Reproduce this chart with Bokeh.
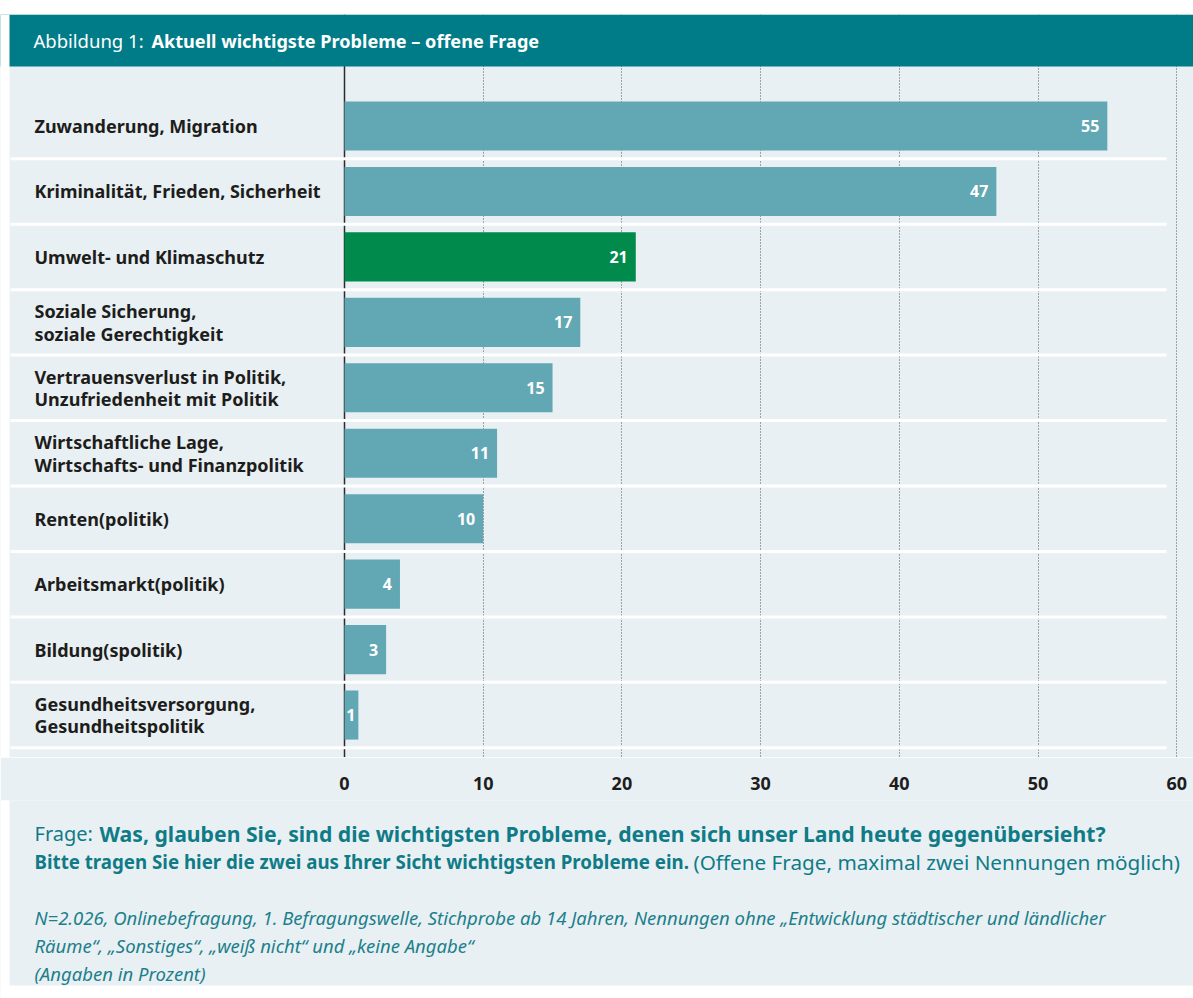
from bokeh.plotting import figure
from bokeh.layouts import column
from bokeh.models import Range1d, FixedTicker, Label, ColumnDataSource, Grid
from bokeh.core.properties import value
from bokeh.embed import file_html
from bokeh.resources import INLINE

# ---------------- data ----------------
categories = [
    "Zuwanderung, Migration",
    "Kriminalität, Frieden, Sicherheit",
    "Umwelt- und Klimaschutz",
    "Soziale Sicherung,\nsoziale Gerechtigkeit",
    "Vertrauensverlust in Politik,\nUnzufriedenheit mit Politik",
    "Wirtschaftliche Lage,\nWirtschafts- und Finanzpolitik",
    "Renten(politik)",
    "Arbeitsmarkt(politik)",
    "Bildung(spolitik)",
    "Gesundheitsversorgung,\nGesundheitspolitik",
]
values = [55, 47, 21, 17, 15, 11, 10, 4, 3, 1]
highlight = [False, False, True, False, False, False, False, False, False, False]
x_ticks = [0, 10, 20, 30, 40, 50, 60]

title_prefix = "Abbildung 1: "
title_main = "Aktuell wichtigste Probleme – offene Frage"
q1_prefix = "Frage: "
q1_bold = "Was, glauben Sie, sind die wichtigsten Probleme, denen sich unser Land heute gegenübersieht?"
q2_bold = "Bitte tragen Sie hier die zwei aus Ihrer Sicht wichtigsten Probleme ein."
q2_rest = "(Offene Frage, maximal zwei Nennungen möglich)"
notes = [
    "N=2.026, Onlinebefragung, 1. Befragungswelle, Stichprobe ab 14 Jahren, Nennungen ohne „Entwicklung städtischer und ländlicher",
    "Räume“, „Sonstiges“, „weiß nicht“ und „keine Angabe“",
    "(Angaben in Prozent)",
]

# ---------------- styling ----------------
FONT = "Noto Sans"
BG = "#e9f0f4"
HEADER = "#007b88"
BAR = "#62a8b4"
BAR_HI = "#008a4b"
TEAL_TXT = "#0f7b87"
DARK = "#1d1d1b"

W = 1193
PAGE_H = 998
TOP = 14              # white strip above the chart
FRAME_BOTTOM = 757    # bottom of chart area
AXIS_H = 43           # tick label band
PX = 13.87            # pixels per percent
X0 = 344              # screen x of value 0
ROW = 65.45           # pixels per row
ROW0 = 125.5          # screen y of first row center

def row_y(screen_y):
    return (screen_y - ROW0) / ROW

def px_x(screen_x):
    return (screen_x - X0) / PX

x_range = Range1d(px_x(0), px_x(W))

p = figure(width=W, height=FRAME_BOTTOM, x_range=x_range, y_range=Range1d(row_y(FRAME_BOTTOM), row_y(TOP)),
           output_backend="svg", toolbar_location=None, y_axis_location=None, x_axis_location=None,
           min_border_left=0, min_border_right=0, min_border_top=TOP, min_border_bottom=0,
           background_fill_color=BG, border_fill_color="white", outline_line_color=None)

idx = list(range(len(categories)))
src = ColumnDataSource(dict(
    y=idx, v=values, cat=categories, lab=[str(v) for v in values],
    color=[BAR_HI if h else BAR for h in highlight],
    off=[-8 if v >= 3 else -3 for v in values],
    lx=[px_x(34)] * len(values),
))

# grid
p.xgrid.ticker = FixedTicker(ticks=x_ticks[1:])
p.xgrid.grid_line_color = "#555555"
p.xgrid.grid_line_dash = "1 2"
p.xgrid.grid_line_width = 1
p.ygrid.visible = False
p.add_layout(Grid(dimension=0, ticker=FixedTicker(ticks=[0]), grid_line_color="#2b2b2b", grid_line_width=1.5))

# header band and white left edge
p.quad(left=px_x(0), right=px_x(W), top=row_y(TOP), bottom=row_y(66), fill_color=HEADER, line_color=None)
p.quad(left=px_x(0), right=px_x(9), top=row_y(TOP), bottom=row_y(FRAME_BOTTOM), fill_color="white", line_color=None)

# row separators
seps = [i + 0.5 for i in idx]
p.segment(x0=[px_x(10)] * len(seps), x1=[px_x(1166)] * len(seps), y0=seps, y1=seps,
          line_color="white", line_width=3)

# bars
p.hbar(y="y", left=0, right="v", height=0.75, fill_color="color", line_color=None, source=src)

# value labels
p.text(x="v", y="y", text="lab", x_offset="off", text_align="right", text_baseline="middle",
       text_color="white", text_font=value(FONT), text_font_style="bold", text_font_size="16px", source=src)

# category labels
p.text(x="lx", y="y", text="cat", text_align="left", text_baseline="middle", text_color=DARK,
       text_font=value(FONT), text_font_style="bold", text_font_size="18px", text_line_height=0.94, source=src)

def lab(fig, frame_bottom, text, px, py, size, color, style="normal"):
    fig.add_layout(Label(x=px, y=frame_bottom - py, x_units="screen", y_units="screen", text=text,
                         text_baseline="middle", text_align="left", text_font=FONT, text_font_size=size,
                         text_color=color, text_font_style=style))

lab(p, FRAME_BOTTOM, title_prefix, 33, 40, "18.5px", "white")
lab(p, FRAME_BOTTOM, title_main, 151, 40, "18.1px", "white", "bold")

# ---------------- footer with the value axis ----------------
H_FOOT = PAGE_H - FRAME_BOTTOM
f = figure(width=W, height=H_FOOT, x_range=x_range, y_range=Range1d(0, H_FOOT - AXIS_H),
           output_backend="svg", toolbar_location=None, x_axis_location="above", y_axis_location=None,
           min_border_left=0, min_border_right=0, min_border_top=AXIS_H, min_border_bottom=0,
           background_fill_color=BG, border_fill_color=BG, outline_line_color=None)
f.xgrid.visible = False
f.ygrid.visible = False

ax = f.xaxis[0]
ax.ticker = FixedTicker(ticks=x_ticks)
ax.axis_line_color = None
ax.major_tick_line_color = None
ax.minor_tick_line_color = None
ax.major_tick_out = 0
ax.major_label_standoff = 11
ax.major_label_text_font = FONT
ax.major_label_text_font_style = "bold"
ax.major_label_text_font_size = "18px"
ax.major_label_text_color = DARK

f.quad(left=px_x(0), right=px_x(9), top=H_FOOT, bottom=0, fill_color="white", line_color=None)
f.quad(left=px_x(0), right=px_x(W), top=PAGE_H - 985, bottom=0, fill_color="white", line_color=None)

lab(f, PAGE_H, q1_prefix, 34, 833, "20px", TEAL_TXT)
lab(f, PAGE_H, q1_bold, 99, 833, "21.2px", TEAL_TXT, "bold")
lab(f, PAGE_H, q2_bold, 34, 861, "18.7px", TEAL_TXT, "bold")
lab(f, PAGE_H, q2_rest, 693, 861, "20.7px", TEAL_TXT)
for i, t in enumerate(notes):
    lab(f, PAGE_H, t, 34, 917 + 28 * i, "18.5px", "#1c7f8b", "italic")

layout = column(p, f, spacing=0)
open("out.html", "w").write(file_html(layout, INLINE))
